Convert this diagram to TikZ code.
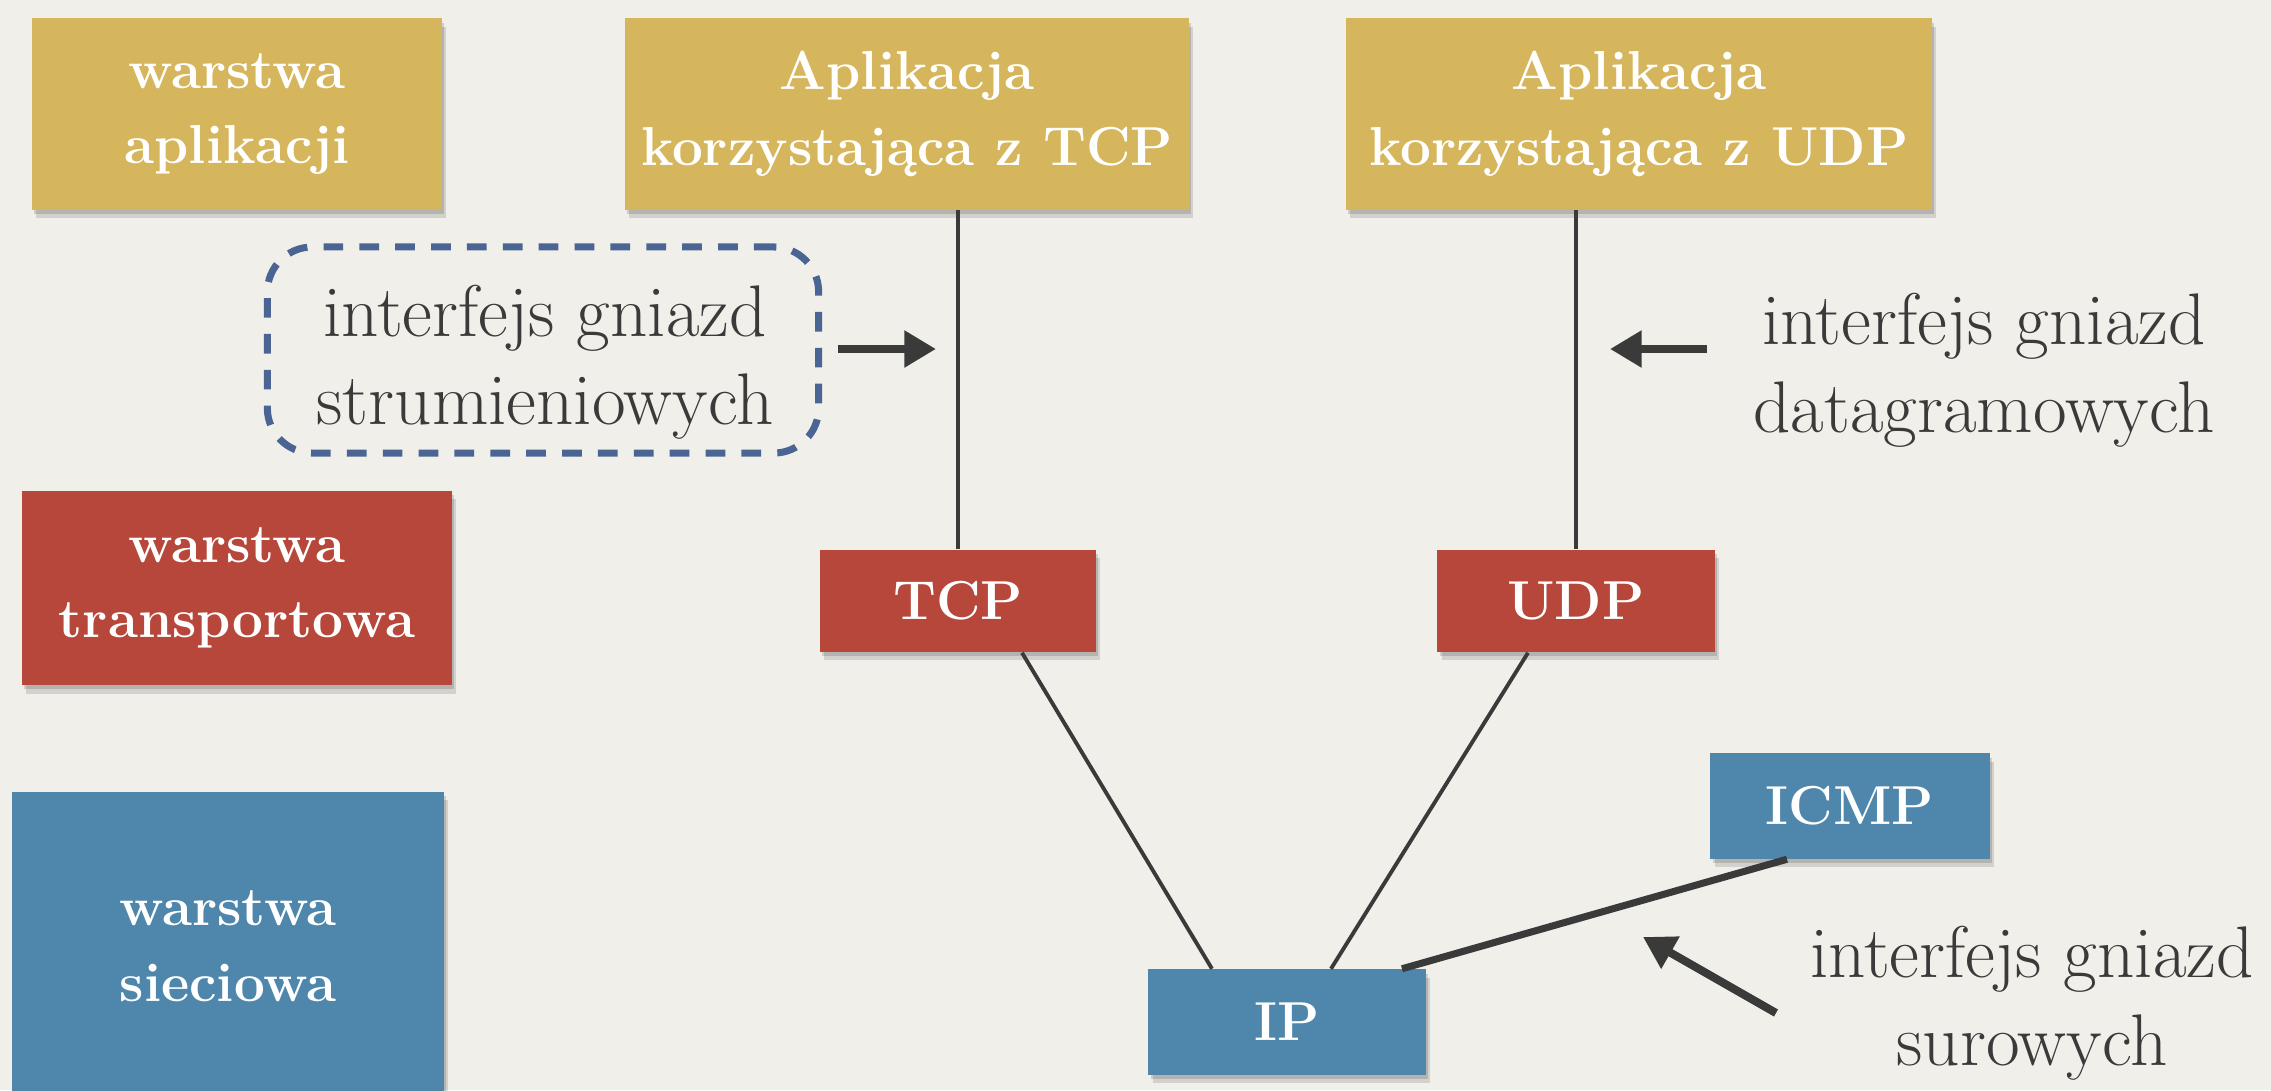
\documentclass[tikz,border=0pt]{standalone}
\usetikzlibrary{arrows.meta,shadows,calc}
\definecolor{paper}{HTML}{F1EFEA}
\definecolor{gold}{HTML}{D6B65C}
\definecolor{brick}{HTML}{B6473A}
\definecolor{steel}{HTML}{4F87AC}
\definecolor{ink}{HTML}{3A3A3A}
\definecolor{dashblue}{HTML}{4A6594}
\begin{document}
\begin{tikzpicture}[x=0.01cm,y=-0.01cm,
  softshade/.style={general shadow={fill=black, opacity=0.12,
      shadow xshift=1.2pt, shadow yshift=-2.4pt},
    general shadow={fill=black, opacity=0.14,
      shadow xshift=0.6pt, shadow yshift=-1.2pt}},
  layerbox/.style={inner sep=0pt, align=center, text=white,
    font=\fontsize{15.6}{21.5}\selectfont\bfseries, softshade},
  appbox/.style={layerbox, fill=gold},
  transbox/.style={layerbox, fill=brick},
  netbox/.style={layerbox, fill=steel},
  note/.style={align=center, text=ink, inner sep=0pt,
    font=\fontsize{20.8}{25}\selectfont},
  link/.style={draw=ink, line width=1.1pt},
  pointer/.style={draw=ink, line width=2.3pt,
    -{Triangle[width=10pt, length=9pt]}}
]
% paper background fixes the page size
\fill[paper] (0,0) rectangle (2271,1090);
\useasboundingbox (0,0) rectangle (2271,1090);

% layer legend on the left
\node[appbox, minimum width=4.10cm, minimum height=1.91cm] (appL) at (237,114)
  {warstwa\\aplikacji};
\node[transbox, minimum width=4.30cm, minimum height=1.94cm] (trL) at (237,588)
  {warstwa\\transportowa};
\begin{scope}
  \clip (0,0) rectangle (2271,1090);
  \node[netbox, minimum width=4.31cm, minimum height=3.08cm] (netL) at (228,946)
    {warstwa\\sieciowa};
\end{scope}

% applications
\node[appbox, minimum width=5.64cm, minimum height=1.91cm] (appTCP) at (907,114)
  {Aplikacja\\korzystająca z TCP};
\node[appbox, minimum width=5.86cm, minimum height=1.91cm] (appUDP) at (1639,114)
  {Aplikacja\\korzystająca z UDP};

% transport protocols
\node[transbox, minimum width=2.76cm, minimum height=1.02cm] (tcp) at (958,601) {TCP};
\node[transbox, minimum width=2.77cm, minimum height=1.02cm] (udp) at (1576,601) {UDP};

% network protocols
\node[netbox, minimum width=2.77cm, minimum height=1.05cm] (ip) at (1287,1022) {IP};
\node[netbox, minimum width=2.79cm, minimum height=1.05cm] (icmp) at (1850,806) {ICMP};

% links between the protocols
\draw[link] (appTCP.south -| tcp.north) -- (tcp.north);
\draw[link] (appUDP.south -| udp.north) -- (udp.north);
\draw[link] ($(tcp.south)+(64,0)$) -- ($(ip.north)+(-75,0)$);
\draw[link] ($(udp.south)+(-48,0)$) -- ($(ip.north)+(44,0)$);
\draw[link, line width=2pt] ($(icmp.south)+(-63,0)$) -- ($(ip.north)+(115,0)$);

% socket interfaces
\node[draw=dashblue, fill=paper, line width=2pt, dash pattern=on 5.6pt off 4.6pt,
  rounded corners=0.45cm, minimum width=5.51cm, minimum height=2.06cm]
  (stream) at (543,350) {};
\node[note] (streamtxt) at ($(stream.center)+(2,12)$) {interfejs gniazd\\strumieniowych};
\node[note] (dgram) at (1984,370) {interfejs gniazd\\datagramowych};
\node[note] (raw) at (2032,1003) {interfejs gniazd\\surowych};

\coordinate (sA) at (838,349);
\coordinate (sB) at (936,349);
\coordinate (dA) at (1707,349);
\coordinate (dB) at (1610,349);
\coordinate (rA) at (1776,1013);
\coordinate (rB) at (1643,937);
\draw[pointer] (sA) -- (sB);
\draw[pointer] (dA) -- (dB);
\draw[pointer] (rA) -- (rB);
\end{tikzpicture}
\end{document}
